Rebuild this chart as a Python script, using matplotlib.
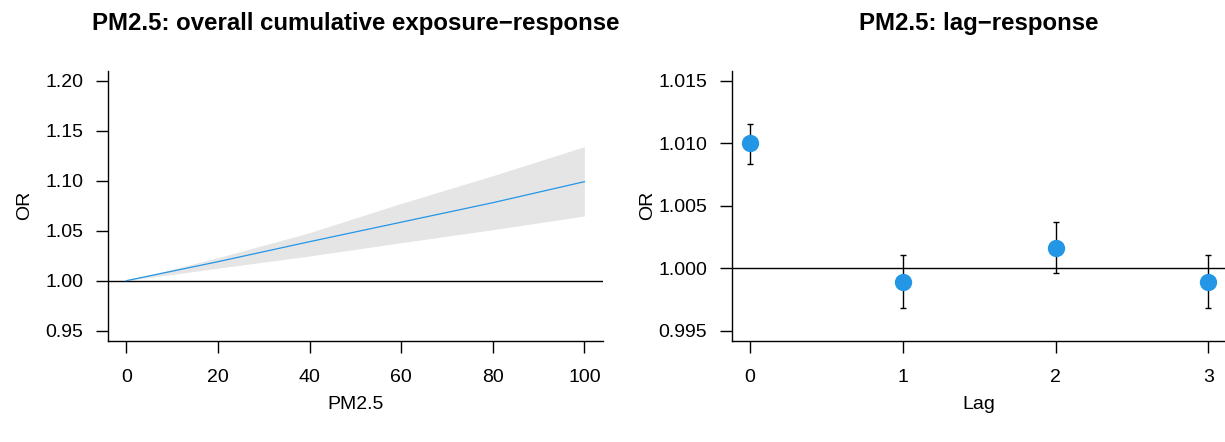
import numpy as np
import matplotlib
matplotlib.use("Agg")
import matplotlib.pyplot as plt
from matplotlib.ticker import FormatStrFormatter

plt.rcParams['font.family'] = ['Liberation Sans', 'DejaVu Sans']

# Overall cumulative exposure-response
pm = [0, 20, 40, 60, 80, 100]
or_fit = [1.000, 1.019, 1.039, 1.0585, 1.078, 1.0990]
or_low = [1.000, 1.0125, 1.0247, 1.038, 1.051, 1.0647]
or_high = [1.000, 1.023, 1.048, 1.0773, 1.105, 1.134]

# Lag-response
lags = [0, 1, 2, 3]
or_lag = [1.0100, 0.99893, 1.00162, 0.99893]
lag_low = [1.00835, 0.99680, 0.99965, 0.99680]
lag_high = [1.01154, 1.00106, 1.00367, 1.00106]

blue = '#2396E6'
fs = 14

fig = plt.figure(figsize=(12.25, 4.42), dpi=100)
ax1 = fig.add_axes([0.08816, 0.22919, 0.40384, 0.61086])
ax2 = fig.add_axes([0.59731, 0.22919, 0.40400, 0.61086])


def style(ax):
    for s in ['top', 'right']:
        ax.spines[s].set_visible(False)
    for s in ['left', 'bottom']:
        ax.spines[s].set_linewidth(1.0)
    ax.tick_params(axis='both', direction='out', length=8.6, width=1.0,
                   labelsize=fs)
    ax.tick_params(axis='y', pad=9)
    ax.tick_params(axis='x', pad=12)
    ax.yaxis.set_label_coords(-0.152, 0.5)
    ax.xaxis.set_label_coords(0.5, -0.205)


# left panel
ax1.fill_between(pm, or_low, or_high, color='#E5E5E5', linewidth=0)
ax1.axhline(1.0, color='black', lw=1.0)
ax1.plot(pm, or_fit, color=blue, lw=0.9)
ax1.set_xlim(-4, 104)
ax1.set_ylim(0.94, 1.21)
ax1.set_xticks([0, 20, 40, 60, 80, 100])
ax1.set_yticks([0.95, 1.00, 1.05, 1.10, 1.15, 1.20])
ax1.yaxis.set_major_formatter(FormatStrFormatter('%.2f'))
ax1.set_xlabel('PM2.5', fontsize=fs)
ax1.set_ylabel('OR', fontsize=fs)
style(ax1)
ax1.text(0.5, 1.175, 'PM2.5: overall cumulative exposure\u2212response',
         transform=ax1.transAxes, ha='center', va='center',
         fontsize=17.3, fontweight='bold')

# right panel
ax2.axhline(1.0, color='black', lw=1.0)
lag_arr = np.array(or_lag)
ax2.errorbar(lags, or_lag,
             yerr=[lag_arr - np.array(lag_low), np.array(lag_high) - lag_arr],
             fmt='none', ecolor='black', elinewidth=1.0, capsize=2,
             capthick=1.0)
ax2.plot(lags, or_lag, 'o', color=blue, markersize=12.5, markeredgewidth=0)
ax2.set_xlim(-0.12, 3.12)
ax2.set_ylim(0.9942, 1.0158)
ax2.set_xticks(lags)
ax2.set_yticks([0.995, 1.000, 1.005, 1.010, 1.015])
ax2.yaxis.set_major_formatter(FormatStrFormatter('%.3f'))
ax2.set_xlabel('Lag', fontsize=fs)
ax2.set_ylabel('OR', fontsize=fs)
style(ax2)
ax2.text(0.5, 1.175, 'PM2.5: lag\u2212response',
         transform=ax2.transAxes, ha='center', va='center',
         fontsize=17.3, fontweight='bold')

fig.savefig('out.png', dpi=100)
